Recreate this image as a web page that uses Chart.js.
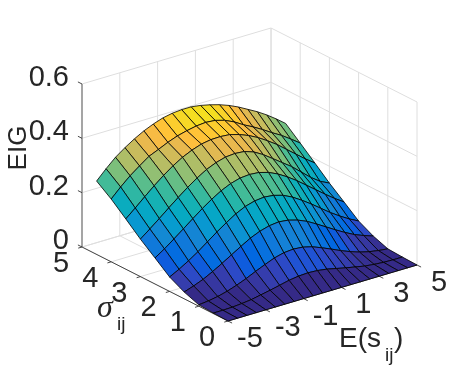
<!DOCTYPE html>
<html lang="en">
<head>
  <meta charset="UTF-8">
  <title>EIG surface</title>
  <script src="https://cdn.jsdelivr.net/npm/chart.js"></script>
  <style>
    body { margin: 0; background: #fff; }
    canvas { display: block; }
  </style>
</head>
<body>
  <canvas id="surface" width="461" height="378"></canvas>

  <script>
    // Grid of the surface
    const eValues = [-5, -4.5, -4, -3.5, -3, -2.5, -2, -1.5, -1, -0.5, 0, 0.5, 1, 1.5, 2, 2.5, 3, 3.5, 4, 4.5, 5];
    const sigmaValues = [0, 0.5, 1, 1.5, 2, 2.5, 3, 3.5, 4, 4.5];

    // EIG, one list per sigma
    const eigSigma00 = [0, 0, 0, 0, 0, 0, 0, 0, 0, 0, 0, 0, 0, 0, 0, 0, 0, 0, 0, 0, 0];
    const eigSigma05 = [.002, .002, .003, .006, .010, .017, .024, .032, .040, .045, .047, .045, .040, .032, .024, .017, .010, .006, .003, .002, .002];
    const eigSigma10 = [.005, .009, .015, .024, .036, .050, .066, .081, .095, .104, .107, .104, .095, .081, .066, .050, .036, .024, .015, .009, .005];
    const eigSigma15 = [.025, .037, .051, .069, .089, .110, .131, .151, .166, .176, .180, .176, .166, .151, .131, .110, .089, .069, .051, .037, .025];
    const eigSigma20 = [.053, .071, .092, .115, .141, .167, .191, .213, .230, .240, .244, .240, .230, .213, .191, .167, .141, .115, .092, .071, .053];
    const eigSigma25 = [.096, .119, .145, .172, .199, .226, .250, .271, .287, .297, .300, .297, .287, .271, .250, .226, .199, .172, .145, .119, .096];
    const eigSigma30 = [.138, .165, .193, .222, .250, .277, .301, .322, .337, .347, .350, .347, .335, .315, .290, .265, .240, .210, .180, .155, .138];
    const eigSigma35 = [.185, .215, .246, .276, .304, .329, .350, .366, .378, .384, .385, .382, .372, .358, .340, .318, .294, .266, .238, .210, .185];
    const eigSigma40 = [.231, .265, .296, .322, .347, .362, .378, .391, .400, .407, .410, .407, .397, .381, .360, .342, .322, .300, .280, .256, .231];
    const eigSigma45 = [.270, .305, .337, .362, .384, .403, .418, .430, .437, .440, .440, .435, .427, .417, .404, .388, .369, .350, .328, .303, .276];
    const eigRows = [eigSigma00, eigSigma05, eigSigma10, eigSigma15, eigSigma20, eigSigma25, eigSigma30, eigSigma35, eigSigma40, eigSigma45];

    // Tick labels
    const eTicks = [-5, -3, -1, 1, 3, 5];
    const sigmaTicks = [0, 1, 2, 3, 4, 5];
    const eigTicks = [0, 0.2, 0.4, 0.6];

    // parula colormap
    const parula = [
      [.2081,.1663,.5292],[.2116,.1898,.5777],[.2123,.2138,.6270],[.2081,.2386,.6771],[.1959,.2645,.7279],[.1707,.2919,.7792],[.1253,.3242,.8303],[.0591,.3598,.8683],
      [.0117,.3875,.8820],[.0060,.4086,.8828],[.0165,.4266,.8786],[.0329,.4430,.8720],[.0498,.4586,.8641],[.0629,.4737,.8554],[.0723,.4887,.8467],[.0779,.5040,.8384],
      [.0793,.5200,.8312],[.0749,.5375,.8263],[.0641,.5570,.8240],[.0488,.5772,.8228],[.0343,.5966,.8199],[.0265,.6137,.8135],[.0239,.6287,.8038],[.0231,.6418,.7913],
      [.0228,.6535,.7768],[.0267,.6642,.7607],[.0384,.6743,.7436],[.0590,.6838,.7254],[.0843,.6928,.7062],[.1133,.7015,.6859],[.1453,.7098,.6646],[.1801,.7177,.6424],
      [.2178,.7250,.6193],[.2586,.7317,.5954],[.3022,.7376,.5712],[.3482,.7424,.5473],[.3953,.7459,.5244],[.4420,.7481,.5033],[.4871,.7491,.4840],[.5300,.7491,.4661],
      [.5709,.7485,.4494],[.6099,.7473,.4337],[.6473,.7456,.4188],[.6834,.7435,.4044],[.7184,.7411,.3905],[.7525,.7384,.3768],[.7858,.7356,.3633],[.8185,.7327,.3498],
      [.8507,.7299,.3360],[.8824,.7274,.3217],[.9139,.7258,.3063],[.9450,.7261,.2886],[.9739,.7314,.2666],[.9938,.7455,.2403],[.9990,.7653,.2164],[.9955,.7861,.1967],
      [.9880,.8066,.1794],[.9789,.8271,.1633],[.9697,.8481,.1475],[.9626,.8705,.1309],[.9589,.8949,.1132],[.9598,.9218,.0948],[.9661,.9514,.0755],[.9763,.9831,.0538]
    ];
    const colorMax = 0.44;

    function cellColor(z) {
      const i = Math.min(63, Math.floor(z / colorMax * 64));
      const c = parula[i];
      return `rgb(${c[0] * 255}, ${c[1] * 255}, ${c[2] * 255})`;
    }

    // 3D view: from the (E, sigma, EIG) box to the flat scales of the chart
    function project(e, s, z) {
      return {
        x: 228 + (e + 5) * 18.9 - s * 29.2,
        y: 321 - (e + 5) * 5.6 - s * 14.8 - z * 271.7
      };
    }

    function lineSet(points, color, width, fillColor) {
      return {
        data: points,
        showLine: true,
        pointRadius: 0,
        borderColor: color,
        borderWidth: width,
        borderJoinStyle: 'round',
        tension: 0,
        fill: fillColor ? 'shape' : false,
        backgroundColor: fillColor || 'transparent'
      };
    }

    const gridColor = '#dedede';
    const axisColor = '#333333';
    const sets = [];

    // Walls and floor
    eigTicks.forEach(z => {
      sets.push(lineSet([project(-5, 5, z), project(5, 5, z), project(5, 0, z)], gridColor, 1));
    });
    eTicks.forEach(e => {
      sets.push(lineSet([project(e, 0, 0), project(e, 5, 0), project(e, 5, 0.6)], gridColor, 1));
    });
    sigmaTicks.forEach(s => {
      sets.push(lineSet([project(-5, s, 0), project(5, s, 0), project(5, s, 0.6)], gridColor, 1));
    });

    // Axis lines and tick marks
    sets.push(lineSet([project(-5, 5, 0), project(-5, 5, 0.6)], '#8c8c8c', 1.5));
    sets.push(lineSet([project(-5, 5, 0), project(-5, 0, 0), project(5, 0, 0)], axisColor, 0.9));
    eigTicks.forEach(z => {
      sets.push(lineSet([project(-5, 5, z), project(-5, 5.14, z)], axisColor, 0.9));
    });
    sigmaTicks.forEach(s => {
      sets.push(lineSet([project(-5, s, 0), project(-5.2, s, 0)], axisColor, 0.9));
    });
    eTicks.forEach(e => {
      sets.push(lineSet([project(e, 0, 0), project(e, -0.14, 0)], axisColor, 0.9));
    });

    // Surface cells, far ones first
    for (let i = sigmaValues.length - 2; i >= 0; i--) {
      for (let j = eValues.length - 2; j >= 0; j--) {
        const corners = [
          project(eValues[j], sigmaValues[i], eigRows[i][j]),
          project(eValues[j + 1], sigmaValues[i], eigRows[i][j + 1]),
          project(eValues[j + 1], sigmaValues[i + 1], eigRows[i + 1][j + 1]),
          project(eValues[j], sigmaValues[i + 1], eigRows[i + 1][j]),
          project(eValues[j], sigmaValues[i], eigRows[i][j])
        ];
        sets.push(lineSet(corners, '#000000', 0.8, cellColor(eigRows[i][j])));
      }
    }

    // Chart.js paints the highest order first
    sets.forEach((d, i) => { d.order = sets.length - i; });

    // Box labels sit in the same scales as the marks
    const boxLabels = {
      id: 'boxLabels',
      afterDatasetsDraw(chart) {
        const { ctx, scales } = chart;
        const px = p => scales.x.getPixelForValue(p.x);
        const py = p => scales.y.getPixelForValue(p.y);
        ctx.save();
        ctx.fillStyle = '#262626';
        ctx.textBaseline = 'middle';

        ctx.font = '29px "Liberation Sans"';
        ctx.textAlign = 'right';
        eigTicks.forEach(z => {
          const p = project(-5, 5, z);
          ctx.fillText(z === 0 ? '0' : z.toFixed(1), px(p) - 13, py(p) - 6);
        });
        ctx.textAlign = 'center';
        sigmaTicks.forEach(s => {
          const p = project(-5, s, 0);
          ctx.fillText(String(s), px(p) - 21, py(p) + 17);
        });
        eTicks.forEach(e => {
          const p = project(e, 0, 0);
          ctx.fillText(String(e), px(p) + 22, py(p) + 18);
        });

        // Axis titles
        ctx.textAlign = 'left';
        ctx.textBaseline = 'alphabetic';
        ctx.font = '28px "Liberation Sans"';
        ctx.fillText('E(s', 339, 347);
        ctx.fillText(')', 394, 347);
        ctx.font = '19px "Liberation Sans"';
        ctx.fillText('ij', 385, 361);
        ctx.fillText('ij', 117, 330);
        ctx.font = 'italic 32px "Liberation Serif"';
        ctx.fillText('σ', 97, 317);

        ctx.save();
        ctx.translate(26, 148);
        ctx.rotate(-Math.PI / 2);
        ctx.font = '26px "Liberation Sans"';
        ctx.textAlign = 'center';
        ctx.fillText('EIG', 0, 0);
        ctx.restore();
        ctx.restore();
      }
    };

    new Chart(document.getElementById('surface'), {
      type: 'scatter',
      data: { datasets: sets },
      options: {
        responsive: false,
        animation: false,
        events: [],
        layout: { padding: 0 },
        plugins: { legend: { display: false }, tooltip: { enabled: false } },
        scales: {
          x: { type: 'linear', display: false, min: 0, max: 461 },
          y: { type: 'linear', display: false, min: 0, max: 378, reverse: true }
        }
      },
      plugins: [boxLabels]
    });
  </script>
</body>
</html>
